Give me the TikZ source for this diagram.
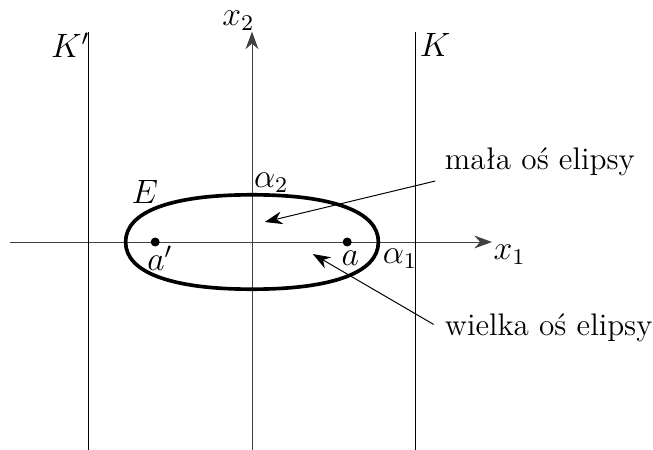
\documentclass[tikz,border=0pt]{standalone}
\usepackage{fontspec}
\usepackage{tikz}
\usetikzlibrary{positioning, arrows.meta, calc}

\tikzset{
  ognisko/.style={circle, fill=black, inner sep=0pt, minimum size=3.2pt},
  strzalka/.style={-{Stealth[length=2.2mm, width=1.6mm]}, line width=0.35pt},
  etykieta/.style={font=\fontsize{12}{14}\selectfont, inner sep=1pt},
}

\begin{document}
\begin{tikzpicture}[font=\fontsize{11.1}{13}\selectfont]
    \useasboundingbox (-3.15,-2.6) rectangle (5.0125,3.025);

    % osie
    \coordinate (x1lewo) at (-3.03,0);
    \coordinate (x1prawo) at (3.0,0);
    \coordinate (x2dol) at (0,-2.6);
    \coordinate (x2gora) at (0,2.63);
    \draw[strzalka, black!75] (x1lewo) -- (x1prawo);
    \draw[strzalka, black!75] (x2dol) -- (x2gora);
    \node[etykieta] (x1) at (3.22,-0.16) {$x_1$};
    \node[etykieta] (x2) at (-0.17,2.77) {$x_2$};

    % proste K i K'
    \coordinate (Kdol) at (2.04,-2.6);
    \coordinate (Kgora) at (2.04,2.62);
    \coordinate (Kpdol) at (-2.04,-2.6);
    \coordinate (Kpgora) at (-2.04,2.62);
    \draw[line width=0.35pt] (Kdol) -- (Kgora);
    \draw[line width=0.35pt] (Kpdol) -- (Kpgora);
    \node[etykieta] (K) at (2.29,2.46) {$K$};
    \node[etykieta] (Kp) at (-2.27,2.46) {$K'$};

    % elipsa E
    \draw[line width=1.3pt]
      (1.58,0) .. controls (1.58,0.38) and (1.01,0.59) .. (0,0.59)
               .. controls (-1.01,0.59) and (-1.58,0.38) .. (-1.58,0)
               .. controls (-1.58,-0.38) and (-1.01,-0.59) .. (0,-0.59)
               .. controls (1.01,-0.59) and (1.58,-0.38) .. (1.58,0) -- cycle;
    \node[etykieta] (E) at (-1.34,0.63) {$E$};
    \node[etykieta] (alfa2) at (0.24,0.74) {$\alpha_2$};
    \node[etykieta] (alfa1) at (1.85,-0.21) {$\alpha_1$};

    % ogniska
    \node[ognisko] (a) at (1.19,0) {};
    \node[ognisko] (ap) at (-1.21,0) {};
    \node[etykieta] (alab) at (1.23,-0.2) {$a$};
    \node[etykieta] (aplab) at (-1.15,-0.2) {$a'$};

    % opisy osi
    \node[anchor=west, inner sep=1pt] (mala) at (2.37,1.0) {mała oś elipsy};
    \node[anchor=west, inner sep=1pt] (wielka) at (2.37,-1.07) {wielka oś elipsy};
    \coordinate (malakoniec) at (0.16,0.25);
    \coordinate (wielkakoniec) at (0.76,-0.15);
    \draw[strzalka] ($(mala.south west)+(-0.08,-0.02)$) -- (malakoniec);
    \draw[strzalka] ($(wielka.west)+(-0.1,0.04)$) -- (wielkakoniec);
\end{tikzpicture}
\end{document}
